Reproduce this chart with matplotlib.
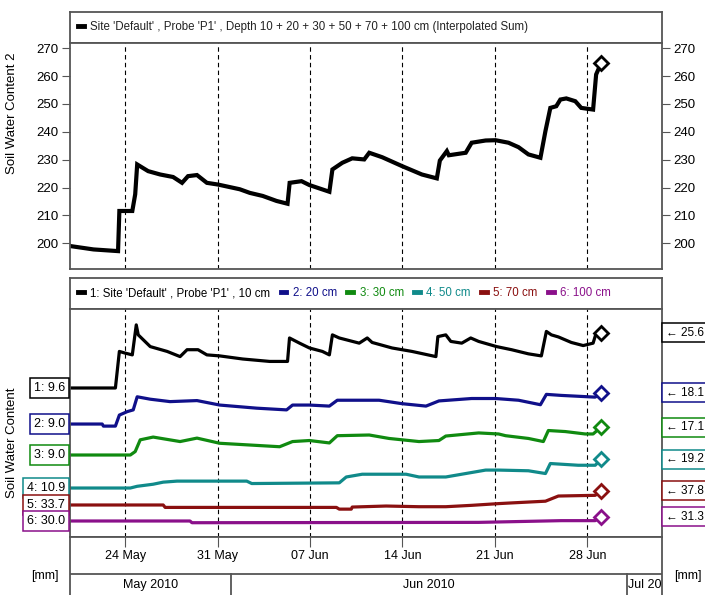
import numpy as np
import pandas as pd
import matplotlib
matplotlib.use("Agg")
import matplotlib.pyplot as plt
import matplotlib.dates as mdates
import matplotlib.transforms as mtransforms
from matplotlib.lines import Line2D

plt.rcParams['font.family'] = ['Liberation Sans', 'DejaVu Sans']

# time axis: days relative to 24 May 2010
t0 = pd.Timestamp("2010-05-24")
view_days = (-4.19, 40.66)
week_ticks = pd.date_range("2010-05-24", "2010-06-28", freq="7D")
month_starts = [pd.Timestamp("2010-06-01"), pd.Timestamp("2010-07-01")]
month_labels = ["May 2010", "Jun 2010", "Jul 2010"]

# upper panel: interpolated sum [mm]
sum_days = [-4.15, -2.41, -0.55, -0.45, 0.53, 0.75, 0.90, 1.73, 2.64, 3.62, 4.30, 4.75,
            5.43, 6.18, 7.01, 8.67, 9.43, 10.41, 11.46, 12.29, 12.45, 13.35, 13.95,
            15.46, 15.69, 16.44, 17.19, 18.10, 18.48, 19.46, 20.97, 22.47, 23.60, 23.83,
            24.36, 24.51, 25.79, 26.24, 27.30, 28.05, 29.03, 29.79, 30.54, 31.45, 31.83,
            32.20, 32.65, 32.96, 33.41, 34.09, 34.54, 35.44, 35.67, 36.05]
sum_vals = [199.0, 197.8, 197.2, 211.6, 211.6, 217.6, 228.3, 225.9, 224.7, 223.8, 221.7, 224.1,
            224.5, 221.7, 221.1, 219.4, 218.1, 217.0, 215.2, 214.2, 221.7, 222.3, 220.9,
            218.5, 226.5, 228.9, 230.5, 230.1, 232.5, 230.9, 227.7, 224.7, 223.3, 229.7,
            233.1, 231.6, 232.5, 236.1, 236.9, 237.0, 236.1, 234.5, 231.9, 230.7, 240.3,
            248.6, 249.2, 251.6, 252.0, 251.0, 248.6, 248.0, 260.6, 264.7]
sum_label = "Site 'Default' , Probe 'P1' , Depth 10 + 20 + 30 + 50 + 70 + 100 cm (Interpolated Sum)"

# lower panel: single depths [mm]
d10_days = [-4.15, -0.75, -0.45, 0.0, 0.53, 0.83, 0.98, 1.89, 3.17, 4.15, 4.68, 5.51, 6.18,
            7.16, 8.90, 10.94, 12.29, 12.44, 13.20, 13.95, 14.93, 15.46, 15.69, 16.21, 17.72,
            18.33, 18.70, 20.21, 21.72, 23.53, 23.68, 24.28, 24.66, 25.49, 26.17, 26.77,
            28.13, 29.26, 30.54, 31.52, 31.90, 32.28, 32.81, 33.79, 34.69, 35.44, 35.67, 36.05]
d10_vals = [9.6, 9.6, 20.2, 19.7, 19.2, 27.9, 25.0, 21.6, 20.2, 18.7, 20.7, 20.7, 19.2,
            18.9, 18.0, 17.3, 17.3, 24.1, 22.6, 21.2, 20.2, 19.2, 25.0, 24.1, 22.6,
            24.1, 22.8, 21.2, 20.2, 18.7, 24.5, 25.0, 23.1, 22.6, 24.1, 23.1,
            21.6, 20.7, 19.5, 18.9, 26.0, 25.0, 24.4, 22.8, 21.9, 22.6, 25.5, 25.6]

d20_days = [-4.15, -1.75, -1.66, -0.75, -0.45, 0.15, 0.60, 0.90, 1.89, 3.39, 5.43, 7.16, 9.95,
            12.22, 12.67, 13.95, 15.46, 16.06, 19.23, 20.97, 22.78, 23.76, 26.24, 28.05,
            29.79, 31.45, 31.90, 33.03, 35.60, 36.05]
d20_vals = [9.0, 9.0, 8.4, 8.4, 11.6, 12.6, 13.1, 16.9, 16.2, 15.5, 15.8, 14.5, 13.6,
            13.1, 14.5, 14.5, 14.2, 15.9, 15.9, 14.9, 14.2, 15.7, 16.4, 16.4,
            15.9, 14.6, 17.6, 17.3, 16.8, 18.1]

d30_days = [-4.15, 0.38, 0.75, 1.13, 2.11, 4.15, 5.43, 7.16, 9.43, 11.69, 12.67, 13.95, 15.46,
            16.06, 18.48, 19.98, 22.25, 23.76, 24.28, 26.77, 28.28, 28.81, 30.54, 31.67,
            32.05, 33.33, 34.84, 35.44, 36.05]
d30_vals = [9.0, 9.0, 10.0, 13.4, 14.2, 12.9, 13.9, 12.4, 11.9, 11.4, 12.9, 13.2, 12.5,
            14.6, 14.8, 13.8, 12.9, 13.2, 14.5, 15.4, 15.1, 14.6, 13.8, 12.9,
            16.1, 15.8, 15.1, 15.1, 17.1]

d50_days = [-4.15, 0.38, 0.90, 2.11, 2.87, 3.92, 9.20, 9.58, 16.21, 16.74, 17.95, 21.27, 22.25,
            24.28, 25.79, 27.30, 28.28, 30.54, 31.83, 32.20, 34.31, 35.60, 36.05]
d50_vals = [10.9, 10.9, 11.4, 12.0, 12.6, 12.9, 12.9, 12.2, 12.4, 14.1, 14.9, 14.9, 14.1,
            14.1, 15.1, 16.1, 16.1, 15.9, 15.1, 18.0, 17.5, 17.5, 19.2]

d70_days = [-4.15, 2.87, 3.02, 15.99, 16.21, 17.12, 17.19, 19.76, 22.25, 24.28, 26.24, 28.28,
            29.26, 31.83, 32.81, 35.60, 36.05]
d70_vals = [33.7, 33.7, 33.0, 33.0, 32.5, 32.5, 33.1, 33.4, 33.2, 33.2, 33.6, 34.1,
            34.3, 34.8, 36.3, 36.5, 37.8]

d100_days = [-4.15, 4.90, 5.05, 26.77, 33.03, 35.60, 36.05]
d100_vals = [30.0, 30.0, 29.5, 29.6, 30.1, 30.1, 31.3]

depth_labels = ["1: Site 'Default' , Probe 'P1' , 10 cm", "2: 20 cm", "3: 30 cm",
                "4: 50 cm", "5: 70 cm", "6: 100 cm"]
depth_days = [d10_days, d20_days, d30_days, d50_days, d70_days, d100_days]
depth_vals = [d10_vals, d20_vals, d30_vals, d50_vals, d70_vals, d100_vals]
colors = ["black", "#10108a", "#108a10", "#108a8a", "#8a1010", "#8a108a"]
# vertical lane where each curve starts in the stacked lower panel
lanes = [43.2, 32.75, 23.77, 14.2, 9.28, 4.64]

W, H = 705, 595
fig = plt.figure(figsize=(W / 100, H / 100), dpi=100)


def box(l, t, r, b):
    return [l / W, 1 - b / H, (r - l) / W, (b - t) / H]


base = mdates.date2num(t0)
xlim = (base + view_days[0], base + view_days[1])
frame_color = "#555555"


def style_frame(ax):
    for s in ax.spines.values():
        s.set_color(frame_color)
        s.set_linewidth(1.3)


def legend_box(rect, handles, labels, textcolors):
    axl = fig.add_axes(rect)
    axl.set_xticks([])
    axl.set_yticks([])
    style_frame(axl)
    leg = axl.legend(handles, labels, loc="center left", frameon=False, ncol=len(labels),
                     handlelength=0.5, handletextpad=0.55, columnspacing=0.9,
                     fontsize=8.3, borderaxespad=0.3)
    for txt, c in zip(leg.get_texts(), textcolors):
        txt.set_color(c)
    return axl


# ---- upper panel
legend_box(box(70, 12, 662, 42.7), [Line2D([], [], color="black", lw=3.5)], [sum_label], ["#222222"])

ax1 = fig.add_axes(box(70, 42.7, 662, 269.3))
style_frame(ax1)
ax1.plot(base + np.array(sum_days), sum_vals, color="black", lw=3, solid_joinstyle="miter")
ax1.plot(base + sum_days[-1], sum_vals[-1], marker="D", ms=7.5, mfc="white", mec="black", mew=2)
ax1.set_xlim(xlim)
ax1.set_ylim(190.67, 272.0)
ax1.set_yticks(np.arange(200, 271, 10))
ax1.set_xticks(mdates.date2num(week_ticks))
ax1.tick_params(axis="x", length=0, labelbottom=False)
ax1.tick_params(axis="y", left=True, right=True, labelleft=True, labelright=True,
                direction="out", length=6, color=frame_color, labelsize=9.5, pad=2)
ax1.grid(axis="x", ls=(0, (4, 3)), color="black", lw=0.8)

# ---- lower panel
handles = [Line2D([], [], color=c, lw=3.5) for c in colors]
legend_box(box(70, 278, 662, 309), handles, depth_labels, colors)

ax2 = fig.add_axes(box(70, 309, 662, 537))
style_frame(ax2)
ax2.set_xlim(xlim)
ax2.set_ylim(0, 66.1)
ax2.set_yticks([])
ax2.set_xticks(mdates.date2num(week_ticks))
ax2.tick_params(axis="x", length=0, labelbottom=False)
ax2.grid(axis="x", ls=(0, (4, 3)), color="black", lw=0.8)

blend_l = mtransforms.blended_transform_factory(ax2.transAxes, ax2.transData)
for i, (d, v, c, lane) in enumerate(zip(depth_days, depth_vals, colors, lanes)):
    y = np.array(v) - v[0] + lane
    ax2.plot(base + np.array(d), y, color=c, lw=2.3)
    ax2.plot(base + d[-1], y[-1], marker="D", ms=7, mfc="white", mec=c, mew=2)
    ax2.annotate(f"{i + 1}: {v[0]:.1f}", xy=(0, lane), xycoords=blend_l,
                 xytext=(-5, 0), textcoords="offset pixels", ha="right", va="center",
                 fontsize=9, annotation_clip=False,
                 bbox=dict(boxstyle="square,pad=0.3", fc="white", ec=c, lw=1.1))
    ax2.annotate(f"\u2190 {v[-1]:.1f}", xy=(1, y[-1]), xycoords=blend_l,
                 xytext=(4, 0), textcoords="offset pixels", ha="left", va="center",
                 fontsize=8.5, annotation_clip=False,
                 bbox=dict(boxstyle="square,pad=0.3", fc="white", ec=c, lw=1.1))

# ---- date band
ax3 = fig.add_axes(box(70, 537, 662, 595))
style_frame(ax3)
ax3.spines["bottom"].set_visible(False)
ax3.set_xlim(xlim)
ax3.set_ylim(0, 1)
ax3.set_yticks([])
ax3.set_xticks(mdates.date2num(week_ticks))
ax3.tick_params(axis="x", top=True, bottom=False, direction="in", length=7,
                color=frame_color, labelbottom=False)
for t in week_ticks:
    ax3.text(mdates.date2num(t), 0.67, t.strftime("%d %b"), ha="center", va="center", fontsize=9)
ax3.axhline(0.362, color=frame_color, lw=1.3)
month_edges = [xlim[0]] + [mdates.date2num(m) for m in month_starts] + [xlim[1]]
for m in month_starts:
    ax3.plot([mdates.date2num(m)] * 2, [0, 0.362], color=frame_color, lw=1.3)
for k, lab in enumerate(month_labels):
    if k < 2:
        ax3.text((month_edges[k] + month_edges[k + 1]) / 2, 0.17, lab, ha="center", va="center", fontsize=9)
    else:
        ax3.text(month_edges[k] + 0.1, 0.17, lab, ha="left", va="center", fontsize=9, clip_on=True)

fig.text(12 / W, 1 - 113 / H, "Soil Water Content 2", rotation=90, ha="center", va="center", fontsize=9.5)
fig.text(12 / W, 1 - 443 / H, "Soil Water Content", rotation=90, ha="center", va="center", fontsize=9.5)
fig.text(45 / W, 1 - 576 / H, "[mm]", ha="center", va="center", fontsize=9)
fig.text(688 / W, 1 - 576 / H, "[mm]", ha="center", va="center", fontsize=9)

fig.savefig("out.png", dpi=100)
